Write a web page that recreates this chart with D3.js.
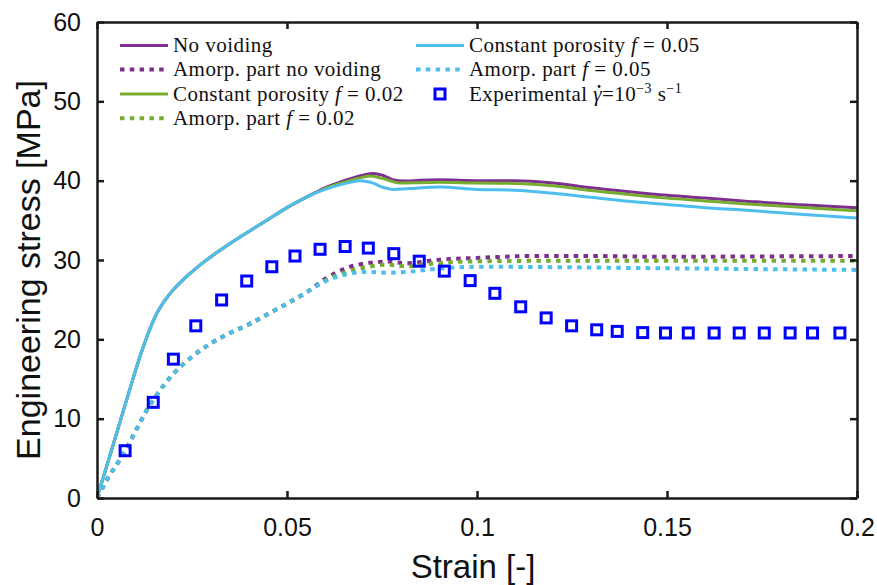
<!DOCTYPE html>
<html>
<head>
<meta charset="utf-8">
<script src="https://cdn.jsdelivr.net/npm/d3@7"></script>
<style>
  html, body { margin: 0; padding: 0; background: #fff; }
  svg { display: block; }
</style>
</head>
<body>
<svg id="chart" width="877" height="585"></svg>
<script>
// ---- data: engineering stress [MPa] versus strain [-] ----
const xTicks = [0, 0.05, 0.1, 0.15, 0.2];
const xTickLabels = ["0", "0.05", "0.1", "0.15", "0.2"];
const yTicks = [0, 10, 20, 30, 40, 50, 60];
const yTickLabels = ["0", "10", "20", "30", "40", "50", "60"];

// common elastic-plastic rise shared by all full-model curves
const solidRiseStrain = [0, 0.004, 0.008, 0.012, 0.014, 0.016, 0.018, 0.02, 0.024, 0.028, 0.032, 0.036, 0.04, 0.045, 0.05, 0.055];
const solidRiseStress = [0, 6.3, 12.7, 18.8, 21.4, 23.5, 25.0, 26.2, 28.1, 29.7, 31.1, 32.4, 33.6, 35.1, 36.6, 37.9];

// No voiding
const noVoidStrain = [0.06, 0.065, 0.07, 0.0727, 0.075, 0.078, 0.081, 0.085, 0.09, 0.1, 0.11, 0.12, 0.13, 0.14, 0.15, 0.16, 0.17, 0.18, 0.19, 0.2];
const noVoidStress = [39.1, 40.0, 40.7, 40.9, 40.7, 40.1, 39.95, 40.05, 40.1, 40.0, 40.0, 39.7, 39.1, 38.6, 38.15, 37.8, 37.45, 37.1, 36.85, 36.6];
// Constant porosity f = 0.02
const f02Strain = [0.06, 0.065, 0.07, 0.0718, 0.075, 0.0797, 0.085, 0.09, 0.1, 0.11, 0.12, 0.13, 0.14, 0.15, 0.16, 0.17, 0.18, 0.19, 0.2];
const f02Stress = [39.0, 39.8, 40.45, 40.6, 40.3, 39.7, 39.75, 39.8, 39.7, 39.65, 39.35, 38.75, 38.25, 37.8, 37.45, 37.1, 36.8, 36.5, 36.2];
// Constant porosity f = 0.05
const f05Strain = [0.06, 0.065, 0.0692, 0.072, 0.075, 0.078, 0.082, 0.09, 0.1, 0.11, 0.12, 0.13, 0.14, 0.15, 0.16, 0.17, 0.18, 0.19, 0.2];
const f05Stress = [38.9, 39.6, 40.0, 39.8, 39.2, 38.9, 39.0, 39.2, 38.9, 38.8, 38.4, 37.9, 37.4, 37.0, 36.6, 36.3, 35.95, 35.6, 35.3];

// amorphous-phase response, shared initial part
const amorpRiseStrain = [0, 0.003, 0.007, 0.01, 0.013, 0.016, 0.02, 0.025, 0.03, 0.035, 0.04, 0.045, 0.05, 0.055];
const amorpRiseStress = [0, 2.6, 5.6, 8.3, 11.0, 13.2, 15.6, 17.8, 19.5, 20.8, 21.9, 23.2, 24.5, 25.9];
const amorpNoVoidStrain = [0.06, 0.0657, 0.071, 0.0762, 0.0815, 0.0894, 0.1017, 0.115, 0.13, 0.15, 0.175, 0.2];
const amorpNoVoidStress = [27.6, 29.0, 29.6, 29.8, 29.6, 30.0, 30.3, 30.5, 30.5, 30.4, 30.45, 30.5];
const amorpF02Strain = [0.06, 0.0657, 0.071, 0.0762, 0.0815, 0.0894, 0.1017, 0.12, 0.15, 0.175, 0.2];
const amorpF02Stress = [27.4, 28.5, 29.1, 29.4, 29.2, 29.6, 29.85, 29.9, 29.9, 29.9, 29.9];
const amorpF05Strain = [0.06, 0.0657, 0.071, 0.0762, 0.0815, 0.0894, 0.1017, 0.12, 0.15, 0.175, 0.2];
const amorpF05Stress = [27.3, 28.2, 28.5, 28.4, 28.5, 28.9, 29.15, 29.1, 28.95, 28.85, 28.75];

// experimental points, strain rate 1e-3 1/s
const expStrain = [0.0074, 0.0148, 0.0201, 0.026, 0.0328, 0.0394, 0.046, 0.0521, 0.0587, 0.0653, 0.0714, 0.0781, 0.0848, 0.0914, 0.0982, 0.1047, 0.1115, 0.1182, 0.1249, 0.1315, 0.1369, 0.1436, 0.1496, 0.1556, 0.1624, 0.169, 0.1756, 0.1824, 0.1883, 0.1955];
const expStress = [5.96, 12.06, 17.5, 21.7, 24.96, 27.35, 29.15, 30.5, 31.35, 31.7, 31.5, 30.8, 29.85, 28.6, 27.4, 25.8, 24.1, 22.7, 21.7, 21.2, 21.0, 20.85, 20.8, 20.8, 20.8, 20.8, 20.8, 20.8, 20.8, 20.8];

const purple = "#7E2F8E", green = "#77AC30", cyan = "#4DBEEE", expBlue = "#0000FF";

// ---- layout ----
const svg = d3.select("#chart");
const m = { left: 97, right: 857, top: 22, bottom: 498 };
const x = d3.scaleLinear().domain([0, 0.2]).range([m.left, m.right]);
const y = d3.scaleLinear().domain([0, 60]).range([m.bottom, m.top]);

function joinSeries(xs1, ys1, xs2, ys2) {
  const pts = xs1.map((v, i) => [v, ys1[i]]);
  return pts.concat(xs2.map((v, i) => [v, ys2[i]]));
}

const line = d3.line()
  .x(d => x(d[0]))
  .y(d => y(d[1]))
  .curve(d3.curveMonotoneX);

const series = [
  { pts: joinSeries(solidRiseStrain, solidRiseStress, noVoidStrain, noVoidStress), color: purple, dotted: false },
  { pts: joinSeries(amorpRiseStrain, amorpRiseStress, amorpNoVoidStrain, amorpNoVoidStress), color: purple, dotted: true },
  { pts: joinSeries(solidRiseStrain, solidRiseStress, f02Strain, f02Stress), color: green, dotted: false },
  { pts: joinSeries(amorpRiseStrain, amorpRiseStress, amorpF02Strain, amorpF02Stress), color: green, dotted: true },
  { pts: joinSeries(solidRiseStrain, solidRiseStress, f05Strain, f05Stress), color: cyan, dotted: false },
  { pts: joinSeries(amorpRiseStrain, amorpRiseStress, amorpF05Strain, amorpF05Stress), color: cyan, dotted: true }
];

const plot = svg.append("g");
plot.append("defs").append("clipPath").attr("id", "clip")
  .append("rect").attr("x", m.left).attr("y", m.top)
  .attr("width", m.right - m.left).attr("height", m.bottom - m.top);

const curves = plot.append("g").attr("clip-path", "url(#clip)");
series.forEach(s => {
  curves.append("path")
    .attr("d", line(s.pts))
    .attr("fill", "none")
    .attr("stroke", s.color)
    .attr("stroke-width", s.dotted ? 4 : 3)
    .attr("stroke-dasharray", s.dotted ? "4.5,5.3" : null)
    .attr("stroke-linejoin", "round");
});

// experimental markers
plot.append("g").selectAll("rect")
  .data(expStrain.map((v, i) => [v, expStress[i]]))
  .join("rect")
  .attr("x", d => x(d[0]) - 5)
  .attr("y", d => y(d[1]) - 5)
  .attr("width", 10)
  .attr("height", 10)
  .attr("fill", "none")
  .attr("stroke", expBlue)
  .attr("stroke-width", 3);

// ---- axes (boxed, ticks pointing inward) ----
const axisColor = "#1a1a1a";
const tickFont = "'Liberation Sans', Arial, sans-serif";

const gx = svg.append("g").attr("transform", `translate(0,${m.bottom})`)
  .call(d3.axisBottom(x).tickValues(xTicks).tickSizeInner(-7).tickSizeOuter(0)
    .tickFormat((d, i) => xTickLabels[i]).tickPadding(20));
const gxTop = svg.append("g").attr("transform", `translate(0,${m.top})`)
  .call(d3.axisTop(x).tickValues(xTicks).tickSizeInner(-7).tickSizeOuter(0).tickFormat(""));
const gy = svg.append("g").attr("transform", `translate(${m.left},0)`)
  .call(d3.axisLeft(y).tickValues(yTicks).tickSizeInner(-7).tickSizeOuter(0)
    .tickFormat((d, i) => yTickLabels[i]).tickPadding(16));
const gyRight = svg.append("g").attr("transform", `translate(${m.right},0)`)
  .call(d3.axisRight(y).tickValues(yTicks).tickSizeInner(-7).tickSizeOuter(0).tickFormat(""));

[gx, gxTop, gy, gyRight].forEach(g => {
  g.select(".domain").attr("stroke", axisColor).attr("stroke-width", 2.5);
  g.selectAll(".tick line").attr("stroke", axisColor).attr("stroke-width", 2.5);
  g.selectAll(".tick text")
    .attr("fill", "#111")
    .style("font-family", tickFont)
    .style("font-size", "25px");
});

// axis titles
svg.append("text")
  .attr("x", (m.left + m.right) / 2 - 4)
  .attr("y", 578)
  .attr("text-anchor", "middle")
  .style("font-family", tickFont)
  .style("font-size", "33px")
  .attr("fill", "#111")
  .text("Strain [-]");

svg.append("text")
  .attr("transform", `translate(40,${(m.top + m.bottom) / 2 + 10}) rotate(-90)`)
  .attr("text-anchor", "middle")
  .style("font-family", tickFont)
  .style("font-size", "34px")
  .attr("fill", "#111")
  .text("Engineering stress [MPa]");

// ---- legend ----
const legendFont = "'Liberation Serif', 'Times New Roman', serif";
const legend = svg.append("g")
  .style("font-family", legendFont)
  .style("font-size", "21px")
  .style("letter-spacing", "0.45px")
  .attr("fill", "#111");

const legendItems = [
  { col: 0, row: 0, color: purple, kind: "solid", parts: [["No voiding"]] },
  { col: 0, row: 1, color: purple, kind: "dotted", parts: [["Amorp. part no voiding"]] },
  { col: 0, row: 2, color: green, kind: "solid", parts: [["Constant porosity "], ["f", "italic"], [" = 0.02"]] },
  { col: 0, row: 3, color: green, kind: "dotted", parts: [["Amorp. part "], ["f", "italic"], [" = 0.02"]] },
  { col: 1, row: 0, color: cyan, kind: "solid", parts: [["Constant porosity "], ["f", "italic"], [" = 0.05"]] },
  { col: 1, row: 1, color: cyan, kind: "dotted", parts: [["Amorp. part "], ["f", "italic"], [" = 0.05"]] },
  { col: 1, row: 2, color: expBlue, kind: "marker", parts: [["Experimental "], ["\u03B3", "italic", "dot"], ["=10"], ["\u22123", "sup"], [" s", "base"], ["\u22121", "sup"]] }
];

const colX = [120, 416];
const rowY = [45.5, 69.5, 94, 118.3];
const sampleLen = 48;

legendItems.forEach(it => {
  const x0 = colX[it.col], yy = rowY[it.row];
  if (it.kind === "marker") {
    legend.append("rect")
      .attr("x", x0 + sampleLen / 2 - 5).attr("y", yy - 5)
      .attr("width", 10).attr("height", 10)
      .attr("fill", "none").attr("stroke", it.color).attr("stroke-width", 3);
  } else {
    legend.append("line")
      .attr("x1", x0).attr("x2", x0 + sampleLen)
      .attr("y1", yy).attr("y2", yy)
      .attr("stroke", it.color)
      .attr("stroke-width", it.kind === "dotted" ? 4 : 3)
      .attr("stroke-dasharray", it.kind === "dotted" ? "4.5,5.3" : null);
  }
  const baseY = yy + 6.5;
  const t = legend.append("text")
    .attr("x", x0 + sampleLen + 5)
    .attr("y", baseY)
    .attr("xml:space", "preserve");
  let charIndex = 0, dotIndex = -1, raised = false;
  it.parts.forEach(p => {
    const ts = t.append("tspan").text(p[0]);
    if (p[1] === "italic") ts.style("font-style", "italic");
    if (p[1] === "sup") {
      ts.attr("y", baseY - 8).style("font-size", "14px");
      raised = true;
    } else if (raised) {
      ts.attr("y", baseY);
      raised = false;
    }
    if (p[2] === "dot") dotIndex = charIndex;
    charIndex += p[0].length;
  });
  // overdot on the strain-rate symbol
  if (dotIndex >= 0) {
    const node = t.node();
    const x1 = node.getStartPositionOfChar(dotIndex).x;
    const x2 = node.getEndPositionOfChar(dotIndex).x;
    legend.append("circle")
      .attr("cx", (x1 + x2) / 2 + 1.5)
      .attr("cy", baseY - 14)
      .attr("r", 1.4)
      .attr("fill", "#111");
  }
});
</script>
</body>
</html>
